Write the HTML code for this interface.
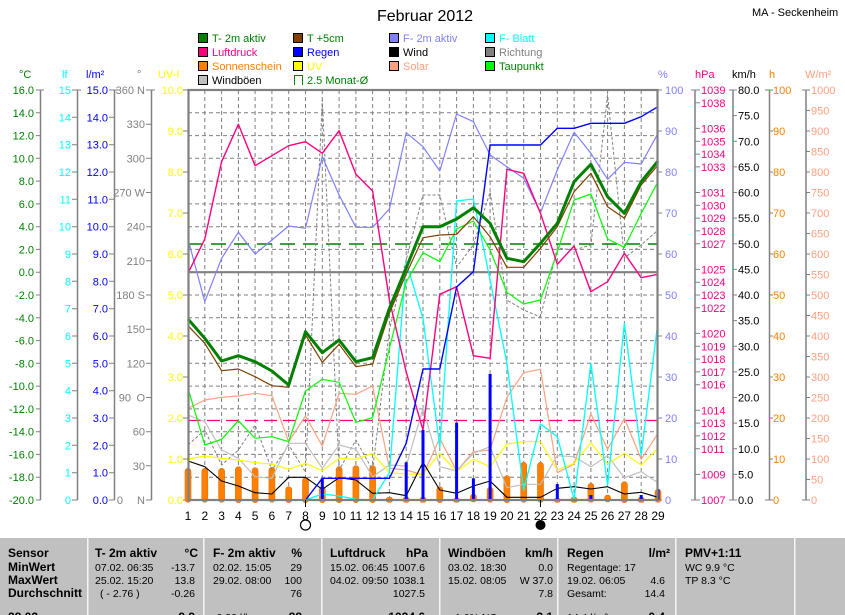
<!DOCTYPE html>
<html><head><meta charset="utf-8"><style>
html,body{margin:0;padding:0;background:#fff;}
svg{display:block;font-family:"Liberation Sans",Arial,sans-serif;}
</style></head><body>
<svg width="845" height="615" viewBox="0 0 845 615" xmlns="http://www.w3.org/2000/svg">
<rect width="845" height="615" fill="#fff"/>
<text x="425" y="21" font-size="16" text-anchor="middle" fill="#000">Februar 2012</text>
<text x="752" y="16" font-size="11" fill="#000">MA - Seckenheim</text>

<!-- legend -->
<g font-size="11">
<rect x="198.5" y="33.5" width="9" height="9" fill="#008000" stroke="#000"/><text x="212" y="42" fill="#008000">T- 2m aktiv</text>
<rect x="293.5" y="33.5" width="9" height="9" fill="#804000" stroke="#000"/><text x="307" y="42" fill="#008000">T +5cm</text>
<rect x="389.5" y="33.5" width="9" height="9" fill="#8080ff" stroke="#000"/><text x="403" y="42" fill="#8080ff">F- 2m aktiv</text>
<rect x="485.5" y="33.5" width="9" height="9" fill="#00ffff" stroke="#000"/><text x="499" y="42" fill="#00ffff">F- Blatt</text>
<rect x="198.5" y="47.5" width="9" height="9" fill="#ff0080" stroke="#000"/><text x="212" y="56" fill="#ff0080">Luftdruck</text>
<rect x="293.5" y="47.5" width="9" height="9" fill="#0000ff" stroke="#000"/><text x="307" y="56" fill="#0000ff">Regen</text>
<rect x="389.5" y="47.5" width="9" height="9" fill="#000" stroke="#000"/><text x="403" y="56" fill="#000">Wind</text>
<rect x="485.5" y="47.5" width="9" height="9" fill="#808080" stroke="#000"/><text x="499" y="56" fill="#808080">Richtung</text>
<rect x="198.5" y="61.5" width="9" height="9" fill="#ff8000" stroke="#000"/><text x="212" y="70" fill="#ff8000">Sonnenschein</text>
<rect x="293.5" y="61.5" width="9" height="9" fill="#ffff00" stroke="#000"/><text x="307" y="70" fill="#ffff00">UV</text>
<rect x="389.5" y="61.5" width="9" height="9" fill="#ffa080" stroke="#000"/><text x="403" y="70" fill="#ffa080">Solar</text>
<rect x="485.5" y="61.5" width="9" height="9" fill="#00ff00" stroke="#000"/><text x="499" y="70" fill="#008000">Taupunkt</text>
<rect x="198.5" y="75.5" width="9" height="9" fill="#c0c0c0" stroke="#000"/><text x="212" y="84" fill="#000">Windböen</text>
<path d="M294.5 85 V75.5 H302.5 V85" fill="none" stroke="#008000"/><text x="307" y="84" fill="#008000">2.5 Monat-Ø</text>
</g>

<!-- unit labels -->
<g font-size="11">
<text x="19" y="78" fill="#008000">°C</text>
<text x="62" y="78" fill="#00ffff">lf</text>
<text x="86" y="78" fill="#0000ff">l/m²</text>
<text x="137" y="78" fill="#808080">°</text>
<text x="158" y="78" fill="#ffff00">UV-I</text>
<text x="658" y="78" fill="#8080ff">%</text>
<text x="695" y="78" fill="#ff0080">hPa</text>
<text x="732" y="78" fill="#000">km/h</text>
<text x="769" y="78" fill="#ff8000">h</text>
<text x="805" y="78" fill="#ffa080">W/m²</text>
</g>

<!-- left axis lines -->
<g stroke="#808080" stroke-width="1.5">
<line x1="40.5" y1="90" x2="40.5" y2="500"/>
<line x1="77.5" y1="90" x2="77.5" y2="500"/>
<line x1="114.5" y1="90" x2="114.5" y2="500"/>
<line x1="151.5" y1="90" x2="151.5" y2="500"/>
<line x1="695" y1="90" x2="695" y2="500"/>
<line x1="733" y1="90" x2="733" y2="500"/>
<line x1="769.5" y1="90" x2="769.5" y2="500"/>
<line x1="806" y1="90" x2="806" y2="500"/>
</g>

<!-- °C axis -->
<g font-size="11" fill="#008000" text-anchor="end">
<text x="34" y="94">16.0</text><text x="34" y="116.8">14.0</text><text x="34" y="139.6">12.0</text><text x="34" y="162.3">10.0</text><text x="34" y="185.1">8.0</text><text x="34" y="207.9">6.0</text><text x="34" y="230.7">4.0</text><text x="34" y="253.4">2.0</text><text x="34" y="276.2">0.0</text><text x="34" y="299">-2.0</text><text x="34" y="321.8">-4.0</text><text x="34" y="344.6">-6.0</text><text x="34" y="367.3">-8.0</text><text x="34" y="390.1">-10.0</text><text x="34" y="412.9">-12.0</text><text x="34" y="435.7">-14.0</text><text x="34" y="458.4">-16.0</text><text x="34" y="481.2">-18.0</text><text x="34" y="504">-20.0</text>
</g>
<g stroke="#808080" stroke-width="1">
<path d="M36 90H44M36 112.8H40.5M36 135.6H40.5M36 158.3H40.5M36 181.1H40.5M36 203.9H40.5M36 226.7H40.5M36 249.4H40.5M36 272.2H40.5M36 295H40.5M36 317.8H40.5M36 340.6H40.5M36 363.3H40.5M36 386.1H40.5M36 408.9H40.5M36 431.7H40.5M36 454.4H40.5M36 477.2H40.5M36 500H40.5"/>
<path d="M72 90H81M72 117.3H77.5M72 144.7H77.5M72 172H77.5M72 199.3H77.5M72 226.7H77.5M72 254H77.5M72 281.3H77.5M72 308.7H77.5M72 336H77.5M72 363.3H77.5M72 390.7H77.5M72 418H77.5M72 445.3H77.5M72 472.7H77.5M72 500H77.5"/>
<path d="M109 90H118M109 117.3H114.5M109 144.7H114.5M109 172H114.5M109 199.3H114.5M109 226.7H114.5M109 254H114.5M109 281.3H114.5M109 308.7H114.5M109 336H114.5M109 363.3H114.5M109 390.7H114.5M109 418H114.5M109 445.3H114.5M109 472.7H114.5M109 500H114.5"/>
<path d="M146 90H155M146 124.2H151.5M146 158.3H151.5M146 192.5H151.5M146 226.7H151.5M146 260.8H151.5M146 295H151.5M146 329.2H151.5M146 363.3H151.5M146 397.5H151.5M146 431.7H151.5M146 465.8H151.5M146 500H151.5"/>
<path d="M183 90H188M183 131H188M183 172H188M183 213H188M183 254H188M183 295H188M183 336H188M183 377H188M183 418H188M183 459H188M183 500H188"/>
<path d="M658 90H662M658 131H662M658 172H662M658 213H662M658 254H662M658 295H662M658 336H662M658 377H662M658 418H662M658 459H662M658 500H662"/>
<path d="M691 90H700M695 102.8H700M695 128.4H700M695 141.3H700M695 154.1H700M695 166.9H700M695 192.5H700M695 205.3H700M695 218.1H700M695 230.9H700M695 243.8H700M695 269.4H700M695 282.2H700M695 295H700M695 307.8H700M695 333.4H700M695 346.3H700M695 359.1H700M695 371.9H700M695 384.7H700M695 410.3H700M695 423.1H700M695 435.9H700M695 448.8H700M695 474.4H700M691 500H700"/>
<path d="M729 90H737M733 115.6H737M733 141.3H737M733 166.9H737M733 192.5H737M733 218.1H737M733 243.8H737M733 269.4H737M733 295H737M733 320.6H737M733 346.3H737M733 371.9H737M733 397.5H737M733 423.1H737M733 448.8H737M733 474.4H737M729 500H737"/>
<path d="M765 90H773M769.5 131H773M769.5 172H773M769.5 213H773M769.5 254H773M769.5 295H773M769.5 336H773M769.5 377H773M769.5 418H773M769.5 459H773M765 500H773"/>
<path d="M802 90H810M806 110.5H810M806 131H810M806 151.5H810M806 172H810M806 192.5H810M806 213H810M806 233.5H810M806 254H810M806 274.5H810M806 295H810M806 315.5H810M806 336H810M806 356.5H810M806 377H810M806 397.5H810M806 418H810M806 438.5H810M806 459H810M806 479.5H810M802 500H810"/>
</g>

<!-- lf -->
<g font-size="11" fill="#00ffff" text-anchor="end">
<text x="71" y="94">15</text><text x="71" y="121.3">14</text><text x="71" y="148.7">13</text><text x="71" y="176">12</text><text x="71" y="203.3">11</text><text x="71" y="230.7">10</text><text x="71" y="258">9</text><text x="71" y="285.3">8</text><text x="71" y="312.7">7</text><text x="71" y="340">6</text><text x="71" y="367.3">5</text><text x="71" y="394.7">4</text><text x="71" y="422">3</text><text x="71" y="449.3">2</text><text x="71" y="476.7">1</text><text x="71" y="504">0</text>
</g>
<!-- l/m2 -->
<g font-size="11" fill="#0000ff" text-anchor="end">
<text x="108" y="94">15.0</text><text x="108" y="121.3">14.0</text><text x="108" y="148.7">13.0</text><text x="108" y="176">12.0</text><text x="108" y="203.3">11.0</text><text x="108" y="230.7">10.0</text><text x="108" y="258">9.0</text><text x="108" y="285.3">8.0</text><text x="108" y="312.7">7.0</text><text x="108" y="340">6.0</text><text x="108" y="367.3">5.0</text><text x="108" y="394.7">4.0</text><text x="108" y="422">3.0</text><text x="108" y="449.3">2.0</text><text x="108" y="476.7">1.0</text><text x="108" y="504">0.0</text>
</g>
<!-- degrees -->
<g font-size="11" fill="#808080" text-anchor="end">
<text x="145" y="94">360 N</text><text x="145" y="128.2">330</text><text x="145" y="162.3">300</text><text x="145" y="196.5">270 W</text><text x="145" y="230.7">240</text><text x="145" y="264.8">210</text><text x="145" y="299">180 S</text><text x="145" y="333.2">150</text><text x="145" y="367.3">120</text><text x="145" y="401.5">O</text><text x="131" y="401.5">90</text><text x="145" y="435.7">60</text><text x="145" y="469.8">30</text><text x="145" y="504">N</text><text x="123" y="504">0</text>
</g>
<!-- UV -->
<g font-size="11" fill="#ffff00" text-anchor="end">
<text x="183" y="94">10.0</text><text x="183" y="135">9.0</text><text x="183" y="176">8.0</text><text x="183" y="217">7.0</text><text x="183" y="258">6.0</text><text x="183" y="299">5.0</text><text x="183" y="340">4.0</text><text x="183" y="381">3.0</text><text x="183" y="422">2.0</text><text x="183" y="463">1.0</text><text x="183" y="504">0.0</text>
</g>
<!-- % -->
<g font-size="11" fill="#8080ff">
<text x="665" y="94">100</text><text x="665" y="135">90</text><text x="665" y="176">80</text><text x="665" y="217">70</text><text x="665" y="258">60</text><text x="665" y="299">50</text><text x="665" y="340">40</text><text x="665" y="381">30</text><text x="665" y="422">20</text><text x="665" y="463">10</text><text x="665" y="504">0</text>
</g>
<!-- hPa -->
<g font-size="11" fill="#ff0080">
<text x="701" y="94">1039</text><text x="701" y="106.8">1038</text><text x="701" y="132.4">1036</text><text x="701" y="145.3">1035</text><text x="701" y="158.1">1034</text><text x="701" y="170.9">1033</text><text x="701" y="196.5">1031</text><text x="701" y="209.3">1030</text><text x="701" y="222.1">1029</text><text x="701" y="234.9">1028</text><text x="701" y="247.8">1027</text><text x="701" y="273.4">1025</text><text x="701" y="286.2">1024</text><text x="701" y="299">1023</text><text x="701" y="311.8">1022</text><text x="701" y="337.4">1020</text><text x="701" y="350.3">1019</text><text x="701" y="363.1">1018</text><text x="701" y="375.9">1017</text><text x="701" y="388.7">1016</text><text x="701" y="414.3">1014</text><text x="701" y="427.1">1013</text><text x="701" y="439.9">1012</text><text x="701" y="452.8">1011</text><text x="701" y="478.4">1009</text><text x="701" y="504">1007</text>
</g>
<!-- km/h -->
<g font-size="11" fill="#000">
<text x="738" y="94">80.0</text><text x="738" y="119.6">75.0</text><text x="738" y="145.3">70.0</text><text x="738" y="170.9">65.0</text><text x="738" y="196.5">60.0</text><text x="738" y="222.1">55.0</text><text x="738" y="247.8">50.0</text><text x="738" y="273.4">45.0</text><text x="738" y="299">40.0</text><text x="738" y="324.6">35.0</text><text x="738" y="350.3">30.0</text><text x="738" y="375.9">25.0</text><text x="738" y="401.5">20.0</text><text x="738" y="427.1">15.0</text><text x="738" y="452.8">10.0</text><text x="738" y="478.4">5.0</text><text x="738" y="504">0.0</text>
</g>
<!-- h -->
<g font-size="11" fill="#ff8000">
<text x="773" y="94">100</text><text x="773" y="135">90</text><text x="773" y="176">80</text><text x="773" y="217">70</text><text x="773" y="258">60</text><text x="773" y="299">50</text><text x="773" y="340">40</text><text x="773" y="381">30</text><text x="773" y="422">20</text><text x="773" y="463">10</text><text x="773" y="504">0</text>
</g>
<!-- W/m2 -->
<g font-size="11" fill="#ffa080">
<text x="811" y="94">1000</text><text x="811" y="114.5">950</text><text x="811" y="135">900</text><text x="811" y="155.5">850</text><text x="811" y="176">800</text><text x="811" y="196.5">750</text><text x="811" y="217">700</text><text x="811" y="237.5">650</text><text x="811" y="258">600</text><text x="811" y="278.5">550</text><text x="811" y="299">500</text><text x="811" y="319.5">450</text><text x="811" y="340">400</text><text x="811" y="360.5">350</text><text x="811" y="381">300</text><text x="811" y="401.5">250</text><text x="811" y="422">200</text><text x="811" y="442.5">150</text><text x="811" y="463">100</text><text x="811" y="483.5">50</text><text x="811" y="504">0</text>
</g>

<!-- grid -->
<g stroke="#808080" stroke-width="1" stroke-dasharray="4 3">
<path d="M204.8 90V500M221.6 90V500M238.4 90V500M255.1 90V500M271.9 90V500M288.7 90V500M305.5 90V500M322.3 90V500M339.1 90V500M355.9 90V500M372.6 90V500M389.4 90V500M406.2 90V500M423 90V500M439.8 90V500M456.6 90V500M473.4 90V500M490.1 90V500M506.9 90V500M523.7 90V500M540.5 90V500M557.3 90V500M574.1 90V500M590.9 90V500M607.6 90V500M624.4 90V500M641.2 90V500"/>
<path d="M188 112.8H658M188 135.6H658M188 158.3H658M188 181.1H658M188 203.9H658M188 226.7H658M188 249.4H658M188 295H658M188 317.8H658M188 340.6H658M188 363.3H658M188 386.1H658M188 408.9H658M188 431.7H658M188 454.4H658M188 477.2H658"/>
</g>
<line x1="188" y1="272.2" x2="658" y2="272.2" stroke="#808080" stroke-width="2.2"/>

<!-- sunshine bars -->
<g fill="#ff8000" stroke="#e07000" stroke-width="0.6">
<rect x="185" y="468.3" width="6" height="34" rx="3"/>
<rect x="201.8" y="468.3" width="6" height="34" rx="3"/>
<rect x="218.6" y="468.3" width="6" height="34" rx="3"/>
<rect x="235.4" y="466.7" width="6" height="36" rx="3"/>
<rect x="252.1" y="467.7" width="6" height="35" rx="3"/>
<rect x="268.9" y="467.3" width="6" height="35" rx="3"/>
<rect x="285.7" y="486.7" width="6" height="16" rx="3"/>
<rect x="302.5" y="477.7" width="6" height="25" rx="3"/>
<rect x="319.3" y="486.7" width="6" height="16" rx="3"/>
<rect x="336.1" y="466.7" width="6" height="36" rx="3"/>
<rect x="352.9" y="465.7" width="6" height="37" rx="3"/>
<rect x="369.6" y="465.7" width="6" height="37" rx="3"/>
<rect x="386.4" y="497.3" width="6" height="5" rx="2"/>
<rect x="403.2" y="497.3" width="6" height="5" rx="2"/>
<rect x="420" y="497.3" width="6" height="5" rx="2"/>
<rect x="436.8" y="486.7" width="6" height="16" rx="3"/>
<rect x="453.6" y="498.3" width="6" height="4" rx="2"/>
<rect x="470.4" y="494" width="6" height="8" rx="3"/>
<rect x="487.1" y="487.3" width="6" height="15" rx="3"/>
<rect x="503.9" y="475.7" width="6" height="27" rx="3"/>
<rect x="520.7" y="462.3" width="6" height="40" rx="3"/>
<rect x="537.5" y="462.3" width="6" height="40" rx="3"/>
<rect x="554.3" y="498.3" width="6" height="4" rx="2"/>
<rect x="571.1" y="497.3" width="6" height="5" rx="2"/>
<rect x="587.9" y="483.3" width="6" height="19" rx="3"/>
<rect x="604.6" y="495" width="6" height="7" rx="3"/>
<rect x="621.4" y="481.7" width="6" height="21" rx="3"/>
<rect x="638.2" y="497.3" width="6" height="5" rx="2"/>
<rect x="655" y="489.3" width="6" height="13" rx="3"/>
</g>

<!-- reference dashed lines -->
<line x1="188" y1="244" x2="658" y2="244" stroke="#008000" stroke-width="1.5" stroke-dasharray="15 8"/>
<line x1="188" y1="420.5" x2="658" y2="420.5" stroke="#ff0080" stroke-width="1.3" stroke-dasharray="13 6"/>

<g fill="none" stroke-linejoin="round">
<!-- Richtung -->
<polyline stroke="#808080" stroke-width="1" stroke-dasharray="3 2" points="188,445 204.8,430 221.6,465 238.4,450 255.1,425 271.9,470 288.7,445 305.5,472 322.3,100 339.1,470 355.9,440 372.6,470 389.4,330 406.2,260 423,195 439.8,195 456.6,267 473.4,245 490.1,192 506.9,300 523.7,310 540.5,317 557.3,248 574.1,250 590.9,245 607.6,95 624.4,258 641.2,245 658,230"/>
<!-- Solar -->
<polyline stroke="#ffa080" stroke-width="1.2" points="188,408.3 204.8,400 221.6,397.3 238.4,396 255.1,393.3 271.9,395.7 288.7,441.7 305.5,416 322.3,446 339.1,393.3 355.9,394.3 372.6,386 389.4,468.3 406.2,470 423,475 439.8,438.3 456.6,471 473.4,451.7 490.1,450 506.9,397.3 523.7,372.7 540.5,369.3 557.3,472.7 574.1,464 590.9,414 607.6,449.3 624.4,418.3 641.2,459.3 658,433.3"/>
<!-- Windboeen -->
<polyline stroke="#c0c0c0" stroke-width="1.2" points="188,415 204.8,421.7 221.6,450 238.4,458.3 255.1,476.7 271.9,478.3 288.7,443.3 305.5,443.3 322.3,468.3 339.1,445 355.9,449.3 372.6,476.7 389.4,465 406.2,466 423,408.3 439.8,466.7 456.6,471 473.4,453.3 490.1,446.7 506.9,487.7 523.7,484.3 540.5,484.3 557.3,455.7 574.1,456.7 590.9,466.7 607.6,455.7 624.4,477.7 641.2,471.7 658,482.7"/>
<!-- UV -->
<polyline stroke="#ffff00" stroke-width="1.2" points="188,459 204.8,456 221.6,458.3 238.4,460 255.1,462.7 271.9,464 288.7,469.3 305.5,463.3 322.3,470.7 339.1,458.3 355.9,459.3 372.6,453.3 389.4,472.7 406.2,474 423,474.3 439.8,453.3 456.6,471.7 473.4,459.3 490.1,466.7 506.9,444 523.7,441.7 540.5,441.7 557.3,470 574.1,463.3 590.9,442.7 607.6,464 624.4,453.3 641.2,465 658,448.3"/>
<!-- Wind -->
<polyline stroke="#000" stroke-width="1.1" points="188,461 204.8,466.7 221.6,481 238.4,486 255.1,492.7 271.9,494 288.7,477.3 305.5,477.3 322.3,489.3 339.1,477.7 355.9,480 372.6,493.3 389.4,492.7 406.2,495.7 423,462.3 439.8,490 456.6,493.3 473.4,486 490.1,481 506.9,497.3 523.7,497.3 540.5,497.3 557.3,488.3 574.1,486.7 590.9,489 607.6,486.7 624.4,494 641.2,492.3 658,497.3"/>
<!-- F-Blatt -->
<polyline stroke="#00ffff" stroke-width="1.3" points="305.5,500 322.3,494 339.1,496 355.9,499.3 372.6,500 389.4,472.7 406.2,262 423,318.3 439.8,446.7 456.6,201 473.4,199 490.1,280 506.9,363 523.7,490 540.5,424 557.3,436.7 574.1,499.3 590.9,363.3 607.6,485 624.4,323.3 641.2,455 658,321.7"/>
<!-- F-2m -->
<polyline stroke="#8080ff" stroke-width="1.2" points="188,239 204.8,301.7 221.6,258.3 238.4,232.3 255.1,254 271.9,240 288.7,226 305.5,228.3 322.3,156.7 339.1,195 355.9,227.3 372.6,227.3 389.4,209 406.2,132.7 423,146.7 439.8,171 456.6,114 473.4,121.7 490.1,155 506.9,166.7 523.7,178.3 540.5,212.7 557.3,170 574.1,132.3 590.9,153.3 607.6,179.3 624.4,162.3 641.2,164 658,133.3"/>
<!-- Taupunkt -->
<polyline stroke="#00ff00" stroke-width="1.2" points="188,388.3 204.8,445 221.6,439.3 238.4,420.7 255.1,438.3 271.9,436.7 288.7,441.7 305.5,391 322.3,379.3 339.1,382.3 355.9,422.3 372.6,417.7 389.4,348.3 406.2,282 423,252.7 439.8,261.7 456.6,229 473.4,221 490.1,250 506.9,292.3 523.7,304 540.5,300 557.3,252 574.1,200 590.9,194 607.6,239 624.4,247.3 641.2,213.3 658,181.7"/>
<!-- Luftdruck -->
<polyline stroke="#ff0080" stroke-width="1.4" points="188,273.3 204.8,239 221.6,161.7 238.4,124.3 255.1,165.7 271.9,155.7 288.7,145.7 305.5,141.7 322.3,153.3 339.1,130.7 355.9,174.3 372.6,191 389.4,300 406.2,372 423,430 439.8,294.3 456.6,286.7 473.4,355.7 490.1,358.3 506.9,169.3 523.7,173.3 540.5,213.3 557.3,264.3 574.1,246 590.9,291.7 607.6,281.7 624.4,253.3 641.2,277.7 658,274.3"/>
<!-- Regen cumulative -->
<polyline stroke="#0000ff" stroke-width="1.4" points="188,500 305.5,500 322.3,478.3 339.1,478.3 355.9,478.3 372.6,478.3 389.4,478.3 406.2,443.3 423,369 439.8,369 456.6,287 473.4,271.7 490.1,145 506.9,145 523.7,145 540.5,145 557.3,128.3 574.1,128.3 590.9,123.3 607.6,123.3 624.4,123.3 641.2,116.7 658,106.7"/>
<!-- T +5cm -->
<polyline stroke="#804000" stroke-width="1.2" points="188,325.7 204.8,343.3 221.6,370.7 238.4,369 255.1,376.7 271.9,385.7 288.7,387.3 305.5,335 322.3,362.3 339.1,344.3 355.9,366.7 372.6,364 389.4,313.3 406.2,274 423,237.7 439.8,235 456.6,234.3 473.4,216.7 490.1,236.7 506.9,267.3 523.7,267.3 540.5,248.3 557.3,226.7 574.1,191.7 590.9,173.3 607.6,206.7 624.4,218.3 641.2,185 658,165"/>
<!-- T-2m -->
<polyline stroke="#008000" stroke-width="3" points="188,319 204.8,338.3 221.6,361 238.4,355.7 255.1,361.7 271.9,371 288.7,385 305.5,331.7 322.3,352.7 339.1,340 355.9,361.7 372.6,357.7 389.4,308.3 406.2,268 423,226.7 439.8,226.7 456.6,219 473.4,207.7 490.1,223.3 506.9,258.3 523.7,261.7 540.5,243.3 557.3,223.3 574.1,181.7 590.9,164.3 607.6,196.7 624.4,213.3 641.2,181.7 658,161"/>
</g>

<!-- rain bars -->
<g fill="#0000ff">
<rect x="320.8" y="478.3" width="3" height="21.7"/>
<rect x="404.7" y="462.3" width="3" height="37.7"/>
<rect x="421.5" y="430" width="3" height="70"/>
<rect x="455.1" y="422.7" width="3" height="77.3"/>
<rect x="471.9" y="478.3" width="3" height="21.7"/>
<rect x="488.6" y="374" width="3" height="126"/>
<rect x="555.8" y="484" width="3" height="16"/>
<rect x="589.4" y="495" width="3" height="5"/>
<rect x="639.7" y="495" width="3" height="5"/>
<rect x="656.5" y="489.3" width="3" height="10.7"/>
</g>

<!-- plot frame -->
<rect x="188.5" y="90" width="469" height="410" fill="none" stroke="#808080" stroke-width="2.2"/>

<!-- x labels -->
<g font-size="12" fill="#000" text-anchor="middle">
<text x="188" y="520">1</text><text x="204.8" y="520">2</text><text x="221.6" y="520">3</text><text x="238.4" y="520">4</text><text x="255.1" y="520">5</text><text x="271.9" y="520">6</text><text x="288.7" y="520">7</text><text x="305.5" y="520">8</text><text x="322.3" y="520">9</text><text x="339.1" y="520">10</text><text x="355.9" y="520">11</text><text x="372.6" y="520">12</text><text x="389.4" y="520">13</text><text x="406.2" y="520">14</text><text x="423" y="520">15</text><text x="439.8" y="520">16</text><text x="456.6" y="520">17</text><text x="473.4" y="520">18</text><text x="490.1" y="520">19</text><text x="506.9" y="520">20</text><text x="523.7" y="520">21</text><text x="540.5" y="520">22</text><text x="557.3" y="520">23</text><text x="574.1" y="520">24</text><text x="590.9" y="520">25</text><text x="607.6" y="520">26</text><text x="624.4" y="520">27</text><text x="641.2" y="520">28</text><text x="658" y="520">29</text>
</g>
<line x1="305.5" y1="500" x2="305.5" y2="507" stroke="#000"/>
<line x1="540.5" y1="500" x2="540.5" y2="507" stroke="#000"/>
<circle cx="305.5" cy="525" r="5" fill="none" stroke="#000" stroke-width="1.2"/>
<circle cx="540.5" cy="525" r="5" fill="#000"/>

<!-- table -->
<rect x="0" y="538" width="845" height="77" fill="#c0c0c0"/>
<g stroke-width="1">
<line x1="87.5" y1="538" x2="87.5" y2="615" stroke="#f4f4f4"/><line x1="88.5" y1="538" x2="88.5" y2="615" stroke="#dcdcdc"/>
<line x1="203.5" y1="538" x2="203.5" y2="615" stroke="#f4f4f4"/><line x1="204.5" y1="538" x2="204.5" y2="615" stroke="#dcdcdc"/>
<line x1="321.5" y1="538" x2="321.5" y2="615" stroke="#f4f4f4"/><line x1="322.5" y1="538" x2="322.5" y2="615" stroke="#dcdcdc"/>
<line x1="439.5" y1="538" x2="439.5" y2="615" stroke="#f4f4f4"/><line x1="440.5" y1="538" x2="440.5" y2="615" stroke="#dcdcdc"/>
<line x1="557.5" y1="538" x2="557.5" y2="615" stroke="#f4f4f4"/><line x1="558.5" y1="538" x2="558.5" y2="615" stroke="#dcdcdc"/>
<line x1="675.5" y1="538" x2="675.5" y2="615" stroke="#f4f4f4"/><line x1="676.5" y1="538" x2="676.5" y2="615" stroke="#dcdcdc"/>
<line x1="794.5" y1="538" x2="794.5" y2="615" stroke="#f4f4f4"/><line x1="795.5" y1="538" x2="795.5" y2="615" stroke="#dcdcdc"/>
</g>
<g font-size="12" font-weight="bold" fill="#000">
<text x="8" y="557">Sensor</text><text x="8" y="571">MinWert</text><text x="8" y="584">MaxWert</text><text x="8" y="597">Durchschnitt</text><text x="8" y="621">28.02.</text>
<text x="95" y="557">T- 2m aktiv</text><text x="198" y="557" text-anchor="end">°C</text>
<text x="213" y="557">F- 2m aktiv</text><text x="302" y="557" text-anchor="end">%</text>
<text x="330" y="557">Luftdruck</text><text x="428" y="557" text-anchor="end">hPa</text>
<text x="448" y="557">Windböen</text><text x="553" y="557" text-anchor="end">km/h</text>
<text x="567" y="557">Regen</text><text x="670" y="557" text-anchor="end">l/m²</text>
<text x="685" y="557">PMV+1:11</text>
<text x="195" y="621" text-anchor="end">9.9</text><text x="302" y="621" text-anchor="end">88</text><text x="425" y="621" text-anchor="end">1024.6</text><text x="553" y="621" text-anchor="end">3.1</text><text x="665" y="621" text-anchor="end">0.4</text>
</g>
<g font-size="10.5" fill="#000">
<text x="95" y="571">07.02. 06:35</text><text x="195" y="571" text-anchor="end">-13.7</text>
<text x="95" y="584">25.02. 15:20</text><text x="195" y="584" text-anchor="end">13.8</text>
<text x="100" y="597">( - 2.76 )</text><text x="195" y="597" text-anchor="end">-0.26</text>
<text x="213" y="571">02.02. 15:05</text><text x="302" y="571" text-anchor="end">29</text>
<text x="213" y="584">29.02. 08:00</text><text x="302" y="584" text-anchor="end">100</text>
<text x="302" y="597" text-anchor="end">76</text>
<text x="213" y="621">-0.20 l/h</text>
<text x="330" y="571">15.02. 06:45</text><text x="425" y="571" text-anchor="end">1007.6</text>
<text x="330" y="584">04.02. 09:50</text><text x="425" y="584" text-anchor="end">1038.1</text>
<text x="425" y="597" text-anchor="end">1027.5</text>
<text x="448" y="571">03.02. 18:30</text><text x="553" y="571" text-anchor="end">0.0</text>
<text x="448" y="584">15.02. 08:05</text><text x="553" y="584" text-anchor="end">W 37.0</text>
<text x="553" y="597" text-anchor="end">7.8</text>
<text x="455" y="621">1.0% NO</text>
<text x="567" y="571">Regentage: 17</text>
<text x="567" y="584">19.02. 06:05</text><text x="665" y="584" text-anchor="end">4.6</text>
<text x="567" y="597">Gesamt:</text><text x="665" y="597" text-anchor="end">14.4</text>
<text x="567" y="621">14.4 l/m²</text>
<text x="685" y="571">WC 9.9 °C</text>
<text x="685" y="584">TP 8.3 °C</text>
</g>
</svg>
</body></html>
